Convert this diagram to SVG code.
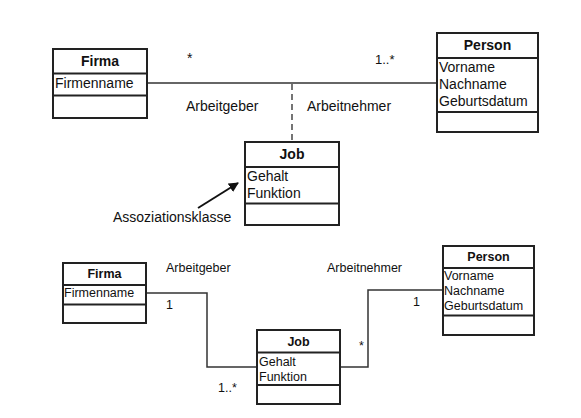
<svg xmlns="http://www.w3.org/2000/svg" width="581" height="418" viewBox="0 0 581 418">
<style>
text{font-family:"Liberation Sans",Arial,sans-serif;fill:#111}
.box{fill:#fff;stroke:#222;stroke-width:2}
.div{stroke:#222;stroke-width:2}
.t{font-size:14px}
.tb{font-size:14px;font-weight:bold;text-anchor:middle}
.s{font-size:12.5px}
.sb{font-size:12.5px;font-weight:bold;text-anchor:middle}
.ln{fill:none;stroke:#333;stroke-width:1.5}
</style>
<defs>
<marker id="ah" viewBox="0 0 10 10" refX="9" refY="5" markerWidth="10" markerHeight="10" markerUnits="userSpaceOnUse" orient="auto">
<path d="M0,0 L10,5 L0,10 Z" fill="#111"/>
</marker>
</defs>
<rect width="581" height="418" fill="#fff"/>
<g id="connectors">
<line class="ln" x1="147" y1="83" x2="437" y2="83"/>
<line x1="292" y1="84" x2="292" y2="142" stroke="#666" stroke-width="1.8" stroke-dasharray="6,4"/>
<line x1="198" y1="208" x2="238" y2="183" stroke="#111" stroke-width="2" marker-end="url(#ah)"/>
<polyline class="ln" points="146,293 207,293 207,367 257,367"/>
<polyline class="ln" points="340,367 368,367 368,290 443,290"/>
</g>
<g id="labels">
<text class="t" x="187" y="63">*</text>
<text class="t" x="375" y="64" style="font-size:13px">1..*</text>
<text class="t" x="186" y="111">Arbeitgeber</text>
<text class="t" x="307" y="111">Arbeitnehmer</text>
<text class="t" x="113" y="222">Assoziationsklasse</text>
<text class="s" x="166" y="272">Arbeitgeber</text>
<text class="s" x="327" y="272">Arbeitnehmer</text>
<text class="s" x="166" y="309">1</text>
<text class="s" x="218" y="392">1..*</text>
<text class="s" x="359" y="350">*</text>
<text class="s" x="413" y="306">1</text>
</g>
<g id="firma1">
<rect class="box" x="53" y="49" width="94" height="69"/>
<line class="div" x1="53" y1="73.5" x2="147" y2="73.5"/>
<line class="div" x1="53" y1="95.5" x2="147" y2="95.5"/>
<text class="tb" x="100" y="66">Firma</text>
<text class="t" x="55" y="88">Firmenname</text>
</g>
<g id="person1">
<rect class="box" x="437" y="33" width="101" height="99"/>
<line class="div" x1="437" y1="58" x2="538" y2="58"/>
<line class="div" x1="437" y1="112" x2="538" y2="112"/>
<text class="tb" x="487.5" y="50">Person</text>
<text class="t" x="439" y="72">Vorname</text>
<text class="t" x="439" y="89">Nachname</text>
<text class="t" x="439" y="106">Geburtsdatum</text>
</g>
<g id="job1">
<rect class="box" x="245" y="142" width="94" height="83"/>
<line class="div" x1="245" y1="167" x2="339" y2="167"/>
<line class="div" x1="245" y1="203.5" x2="339" y2="203.5"/>
<text class="tb" x="292" y="159">Job</text>
<text class="t" x="247" y="181">Gehalt</text>
<text class="t" x="247" y="198">Funktion</text>
</g>
<g id="firma2">
<rect class="box" x="63" y="263" width="83" height="60"/>
<line class="div" x1="63" y1="285" x2="146" y2="285"/>
<line class="div" x1="63" y1="304.5" x2="146" y2="304.5"/>
<text class="sb" x="104.5" y="278">Firma</text>
<text class="s" x="64" y="297">Firmenname</text>
</g>
<g id="job2">
<rect class="box" x="257" y="330" width="83" height="74"/>
<line class="div" x1="257" y1="352.5" x2="340" y2="352.5"/>
<line class="div" x1="257" y1="385" x2="340" y2="385"/>
<text class="sb" x="298.5" y="346">Job</text>
<text class="s" x="259" y="366">Gehalt</text>
<text class="s" x="259" y="381">Funktion</text>
</g>
<g id="person2">
<rect class="box" x="443" y="246" width="91" height="89"/>
<line class="div" x1="443" y1="268" x2="534" y2="268"/>
<line class="div" x1="443" y1="315.5" x2="534" y2="315.5"/>
<text class="sb" x="488.5" y="261">Person</text>
<text class="s" x="444" y="279.5">Vorname</text>
<text class="s" x="444" y="295">Nachname</text>
<text class="s" x="444" y="310">Geburtsdatum</text>
</g>
</svg>
